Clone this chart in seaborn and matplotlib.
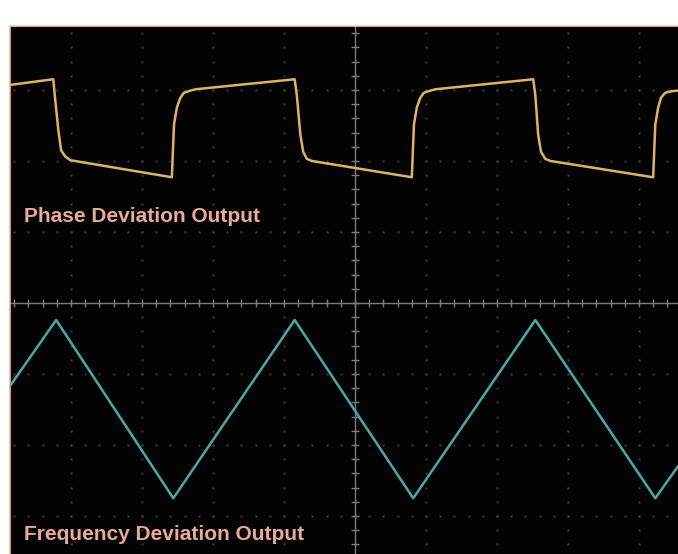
import numpy as np
import pandas as pd
import matplotlib
matplotlib.use("Agg")
import matplotlib.pyplot as plt
import seaborn as sns

# scope trace values, in screen divisions (x: time div, y: volt div)
phase_t = [-4.86, -4.25, -4.23, -4.18, -4.14, -4.08, -4.01, -2.58, -2.55, -2.51,
           -2.46, -2.41, -2.32, -2.24, -0.85, -0.82, -0.77, -0.73, -0.68, -0.61,
           0.80, 0.83, 0.87, 0.92, 0.97, 1.06, 1.14, 2.51, 2.54, 2.58, 2.62, 2.68,
           2.75, 4.20, 4.23, 4.27, 4.31, 4.37, 4.45, 4.55]
phase_v = [3.07, 3.15, 2.93, 2.44, 2.15, 2.06, 2.01, 1.77, 2.51, 2.75,
           2.89, 2.96, 2.99, 3.01, 3.15, 2.93, 2.37, 2.13, 2.03, 2.00,
           1.77, 2.51, 2.75, 2.89, 2.96, 2.99, 3.01, 3.15, 2.93, 2.37, 2.13, 2.03,
           2.00, 1.77, 2.51, 2.75, 2.89, 2.96, 2.98, 2.99]
freq_t = [-4.86, -4.21, -2.56, -0.85, 0.82, 2.54, 4.23, 4.55]
freq_v = [-1.17, -0.24, -2.75, -0.24, -2.75, -0.24, -2.75, -2.30]

labels = ["Phase Deviation Output", "Frequency Deviation Output"]

df = pd.concat([
    pd.DataFrame({"t": phase_t, "v": phase_v, "signal": "phase"}),
    pd.DataFrame({"t": freq_t, "v": freq_v, "signal": "freq"}),
], ignore_index=True)

sns.set_style("dark", {"axes.facecolor": "black"})
fig = plt.figure(figsize=(6.78, 5.54), dpi=100)
fig.patch.set_facecolor("white")
ax = fig.add_axes([10 / 678, 0, 668 / 678, 528 / 554])
ax.set_facecolor("#030303")

# graticule: dotted major lines + centre crosshair with ticks
minor = np.arange(-5, 5.01, 0.2)
for g in range(-4, 5):
    if g != 0:
        ax.plot(np.full_like(minor, g), minor, ls="none", marker="s", ms=1.5,
                mec="none", mfc="#3c3c3c", zorder=1)
for g in range(-3, 4):
    if g != 0:
        ax.plot(minor, np.full_like(minor, g), ls="none", marker="s", ms=1.5,
                mec="none", mfc="#3c3c3c", zorder=1)
ax.axhline(0, color="#7c7c7c", lw=1, zorder=1)
ax.axvline(0, color="#7c7c7c", lw=1, zorder=1)
ax.plot(minor, np.zeros_like(minor), ls="none", marker="|", ms=6, mew=1,
        color="#7c7c7c", zorder=1)
ax.plot(np.zeros_like(minor), minor, ls="none", marker="_", ms=6, mew=1,
        color="#7c7c7c", zorder=1)

sns.lineplot(data=df, x="t", y="v", hue="signal", sort=False, estimator=None,
             palette={"phase": "#dcb464", "freq": "#4aa8a8"}, lw=1.8,
             legend=False, ax=ax, zorder=3)

ax.text(-4.66, 1.14, labels[0], color="#e8ab96", fontsize=15,
        fontweight="bold", family="Liberation Sans", va="baseline", zorder=4)
ax.text(-4.66, -3.34, labels[1], color="#e8ab96", fontsize=15,
        fontweight="bold", family="Liberation Sans", va="baseline", zorder=4)

ax.set_xlim(-4.86, 4.55)
ax.set_ylim(-3.535, 3.90)
ax.set_xticks([])
ax.set_yticks([])
ax.set_xlabel("")
ax.set_ylabel("")
ax.grid(False)
for side in ["right", "bottom"]:
    ax.spines[side].set_visible(False)
ax.spines["left"].set_color("#f0b8a8")
ax.spines["top"].set_color("#f5d0c0")
ax.spines["left"].set_linewidth(1.2)
ax.spines["top"].set_linewidth(1.2)

fig.savefig("out.png", dpi=100, facecolor="white")
